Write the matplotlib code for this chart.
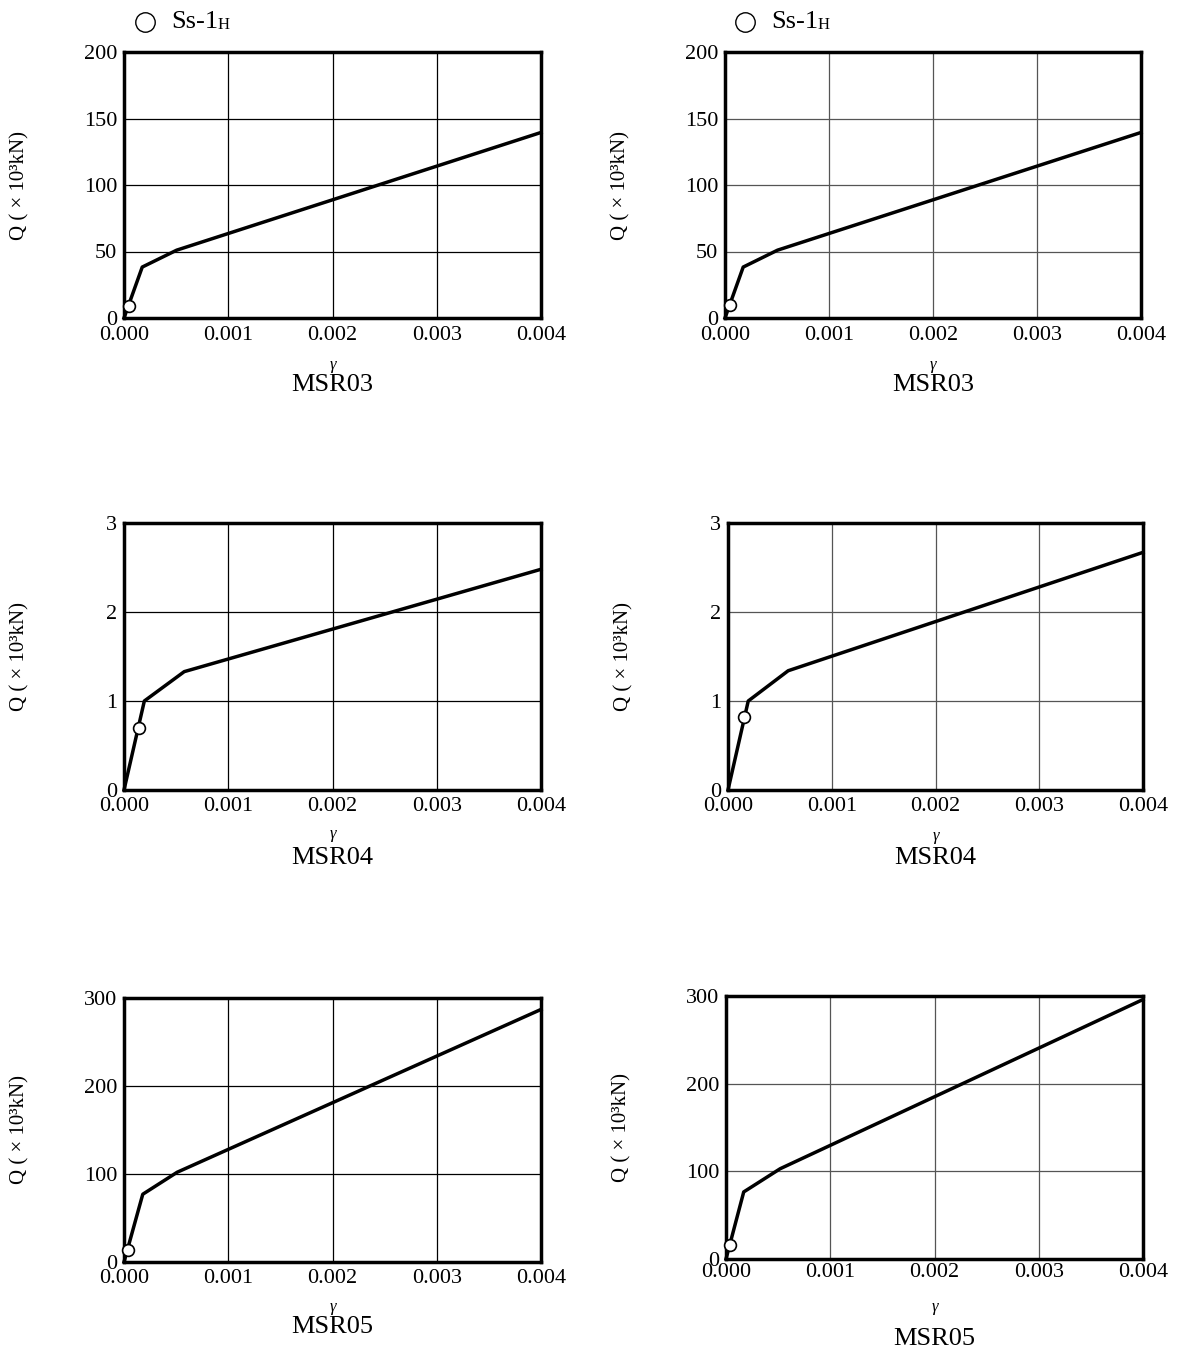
import matplotlib
matplotlib.use('Agg')
import matplotlib.pyplot as plt

plt.rcParams['font.family'] = ['Liberation Serif', 'DejaVu Serif']

# gamma-Q skeleton curves (x: shear strain, y: Q in 10^3 kN)
msr03_left_x = [0.0, 0.000175, 0.000505, 0.004]
msr03_left_y = [0.0, 38.3, 51.0, 139.5]
msr03_left_pt = (0.000045, 9.0)

msr03_right_x = [0.0, 0.000175, 0.000505, 0.004]
msr03_right_y = [0.0, 38.3, 51.0, 139.5]
msr03_right_pt = (0.00005, 10.0)

msr04_left_x = [0.0, 0.000195, 0.000578, 0.004]
msr04_left_y = [0.0, 1.0, 1.33, 2.48]
msr04_left_pt = (0.00014, 0.70)

msr04_right_x = [0.0, 0.000195, 0.00058, 0.004]
msr04_right_y = [0.0, 1.0, 1.34, 2.67]
msr04_right_pt = (0.000157, 0.82)

msr05_left_x = [0.0, 0.00018, 0.00051, 0.004]
msr05_left_y = [0.0, 77.0, 102.0, 287.0]
msr05_left_pt = (0.000035, 14.0)

msr05_right_x = [0.0, 0.00017, 0.00052, 0.004]
msr05_right_y = [0.0, 76.5, 103.0, 296.0]
msr05_right_pt = (0.000035, 16.0)

x_ticks = [0.0, 0.001, 0.002, 0.003, 0.004]
x_ticklabels = ['0.000', '0.001', '0.002', '0.003', '0.004']

W, H = 1179, 1353
fig = plt.figure(figsize=(W / 100, H / 100), dpi=100)


def px_axes(l, t, r, b):
    return fig.add_axes([l / W, 1 - b / H, (r - l) / W, (b - t) / H])


panels = [
    # (box px, x, y, marker, ylim, yticks, name, gamma offset, name offset, grid colour, xpad)
    ((124, 52, 541, 318), msr03_left_x, msr03_left_y, msr03_left_pt, 200, [0, 50, 100, 150, 200], 'MSR03', 47, 67, 'k', 6),
    ((725, 52, 1141, 318), msr03_right_x, msr03_right_y, msr03_right_pt, 200, [0, 50, 100, 150, 200], 'MSR03', 47, 67, '#555555', 6),
    ((124, 523, 541, 790), msr04_left_x, msr04_left_y, msr04_left_pt, 3, [0, 1, 2, 3], 'MSR04', 44, 68, 'k', 5),
    ((728, 523, 1143, 790), msr04_right_x, msr04_right_y, msr04_right_pt, 3, [0, 1, 2, 3], 'MSR04', 46, 68, '#555555', 5),
    ((124, 998, 541, 1262), msr05_left_x, msr05_left_y, msr05_left_pt, 300, [0, 100, 200, 300], 'MSR05', 45, 65, 'k', 5),
    ((726, 996, 1143, 1259), msr05_right_x, msr05_right_y, msr05_right_pt, 300, [0, 100, 200, 300], 'MSR05', 48, 80, '#555555', 3),
]

for box, xs, ys, pt, ymax, yticks, name, g_off, n_off, gcol, xpad in panels:
    ax = px_axes(*box)
    h_px = box[3] - box[1]
    w_px = box[2] - box[0]
    ax.plot(xs, ys, c='k', lw=2.5, zorder=3, clip_on=False)
    ax.plot([pt[0]], [pt[1]], 'o', ms=8.5, mfc='white', mec='k', mew=1.2, zorder=4, clip_on=False)
    ax.set_xlim(0, 0.004)
    ax.set_ylim(0, ymax)
    ax.set_xticks(x_ticks)
    ax.set_xticklabels(x_ticklabels)
    ax.set_yticks(yticks)
    ax.grid(True, color=gcol, lw=0.9)
    ax.set_axisbelow(True)
    ax.tick_params(length=0, labelsize=16)
    ax.tick_params(axis='x', pad=xpad)
    ax.tick_params(axis='y', pad=5)
    for s in ax.spines.values():
        s.set_linewidth(2.5)
    ax.set_ylabel('Q ( × 10³kN)', fontsize=15, va='center')
    ax.yaxis.set_label_coords(-104 / w_px, 0.5)
    ax.text(0.5, -g_off / h_px, 'γ', style='italic', fontsize=12,
            transform=ax.transAxes, ha='center', va='center')
    ax.text(0.5, -n_off / h_px, name, fontsize=19,
            transform=ax.transAxes, ha='center', va='center')

# legend-like header above the top panels
for x0 in (145, 745):
    fig.lines.append(plt.Line2D([x0 / W], [1 - 22 / H], marker='o', ms=14, mfc='white',
                                mec='k', mew=1.0, transform=fig.transFigure))
    fig.text((x0 + 26) / W, 1 - 22 / H, 'Ss-1', fontsize=19, va='center')
    fig.text((x0 + 73) / W, 1 - 25 / H, 'H', fontsize=12, va='center')

fig.savefig('out.png', dpi=100)
